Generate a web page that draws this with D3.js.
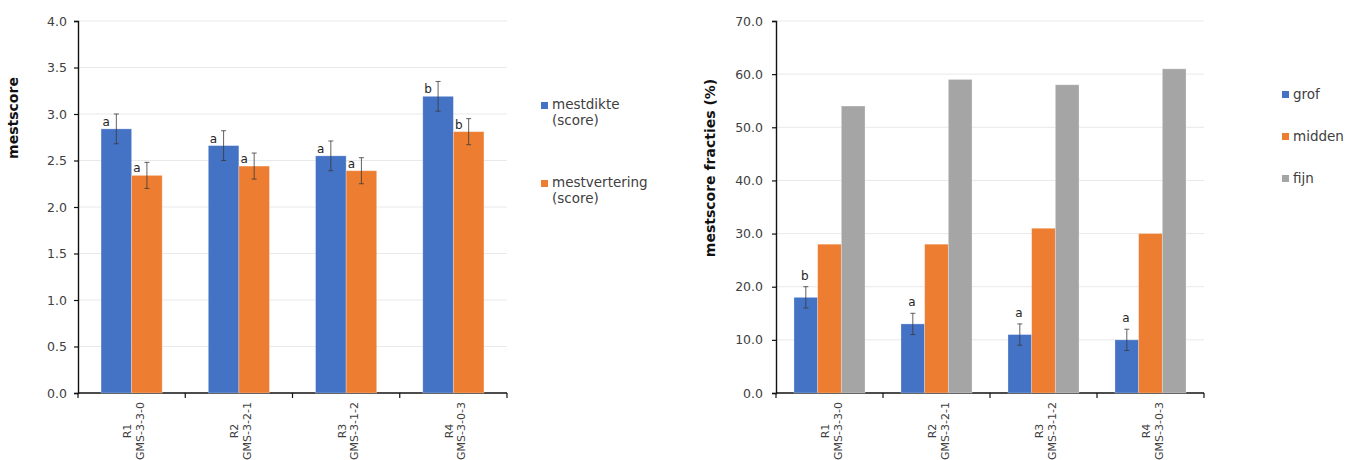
<!DOCTYPE html>
<html>
<head>
<meta charset="utf-8">
<script src="https://cdn.jsdelivr.net/npm/d3@7"></script>
<style>
  body { margin: 0; background: #fff; }
  svg { display: block; font-family: "DejaVu Sans", Verdana, sans-serif; }
  .tick text { fill: #404040; }
</style>
</head>
<body>
<svg id="chart" width="1354" height="460"></svg>
<script>
// categories
const rounds = ["R1", "R2", "R3", "R4"];
const treatments = ["GMS-3-3-0", "GMS-3-2-1", "GMS-3-1-2", "GMS-3-0-3"];

// left chart: mestscore
const scoreSeries = ["mestdikte", "mestvertering"];
const scoreLegend = [["mestdikte", "(score)"], ["mestvertering", "(score)"]];
const mestdikte = [2.84, 2.66, 2.55, 3.19];
const mestdikteErr = [0.16, 0.16, 0.16, 0.16];
const mestdikteLetters = ["a", "a", "a", "b"];
const mestvertering = [2.34, 2.44, 2.39, 2.81];
const mestverteringErr = [0.14, 0.14, 0.14, 0.14];
const mestverteringLetters = ["a", "a", "a", "b"];
const scoreTicks = [0, 0.5, 1, 1.5, 2, 2.5, 3, 3.5, 4];

// right chart: fracties
const fracSeries = ["grof", "midden", "fijn"];
const grof = [18, 13, 11, 10];
const grofErr = [2, 2, 2, 2];
const grofLetters = ["b", "a", "a", "a"];
const midden = [28, 28, 31, 30];
const fijn = [54, 59, 58, 61];
const fracTicks = [0, 10, 20, 30, 40, 50, 60, 70];

const colors = {mestdikte: "#4472C4", mestvertering: "#ED7D31", grof: "#4472C4", midden: "#ED7D31", fijn: "#A5A5A5"};

const svg = d3.select("#chart");
const plotTop = 21, plotBottom = 393;

function drawFrame(g, x, y, ticks, fmt, left, right, padding) {
  // gridlines
  g.append("g").selectAll("line").data(ticks.filter(t => t > 0)).join("line")
    .attr("x1", left).attr("x2", right)
    .attr("y1", d => y(d)).attr("y2", d => y(d))
    .attr("stroke", "#e9e9e9").attr("stroke-width", 1);

  const ax = g.append("g").attr("transform", `translate(${left},0)`)
    .call(d3.axisLeft(y).tickValues(ticks).tickFormat(fmt).tickSize(4).tickPadding(padding));
  ax.select(".domain").attr("stroke", "#111").attr("stroke-width", 1.4);
  ax.selectAll(".tick line").attr("stroke", "#111").attr("stroke-width", 1.2);
  ax.selectAll("text").attr("font-size", "12.5px").attr("font-family", "DejaVu Sans");

  // category axis with ticks between groups
  g.append("line").attr("x1", left).attr("x2", right).attr("y1", plotBottom).attr("y2", plotBottom)
    .attr("stroke", "#111").attr("stroke-width", 1.4);
  const bounds = rounds.map(r => x(r)).concat([x.range()[1]]);
  g.append("g").selectAll("line").data(bounds).join("line")
    .attr("x1", d => d).attr("x2", d => d).attr("y1", plotBottom).attr("y2", plotBottom + 5)
    .attr("stroke", "#111").attr("stroke-width", 1.2);

  // two-line rotated category labels
  const lab = g.append("g").selectAll("g").data(rounds).join("g");
  lab.append("text")
    .attr("transform", (d) => `translate(${x(d) + x.bandwidth() / 2 - 0.5},431) rotate(-90)`)
    .attr("text-anchor", "middle").attr("font-size", "11px").attr("fill", "#404040")
    .text(d => d);
  lab.append("text")
    .attr("transform", (d, i) => `translate(${x(d) + x.bandwidth() / 2 + 12},431) rotate(-90)`)
    .attr("text-anchor", "middle").attr("font-size", "11px").attr("fill", "#404040")
    .text((d, i) => treatments[i]);
}

function errorBar(g, cx, yTop, yBot) {
  g.append("line").attr("x1", cx).attr("x2", cx).attr("y1", yTop).attr("y2", yBot)
    .attr("stroke", "#3a3a3a").attr("stroke-width", 0.8);
  [yTop, yBot].forEach(yy => g.append("line")
    .attr("x1", cx - 2.5).attr("x2", cx + 2.5).attr("y1", yy).attr("y2", yy)
    .attr("stroke", "#3a3a3a").attr("stroke-width", 0.8));
}

// ---------- left chart ----------
{
  const left = 78, right = 507;
  const g = svg.append("g");
  const x = d3.scaleBand().domain(rounds).range([left, right]).padding(0);
  const y = d3.scaleLinear().domain([0, 4]).range([plotBottom, plotTop]);
  const bw = x.bandwidth();
  const x1 = d3.scaleBand().domain(scoreSeries).range([bw * 0.215, bw * 0.785]).padding(0);

  drawFrame(g, x, y, scoreTicks, d3.format(".1f"), left, right, 7);

  const data = {mestdikte: [mestdikte, mestdikteErr, mestdikteLetters],
                mestvertering: [mestvertering, mestverteringErr, mestverteringLetters]};
  scoreSeries.forEach(s => {
    const [vals, errs, letters] = data[s];
    rounds.forEach((r, i) => {
      const bx = x(r) + x1(s);
      g.append("rect").attr("x", bx).attr("y", y(vals[i]))
        .attr("width", x1.bandwidth()).attr("height", plotBottom - y(vals[i]))
        .attr("fill", colors[s]).attr("stroke", "#fff").attr("stroke-opacity", 0.35).attr("stroke-width", 0.8);
      errorBar(g, bx + x1.bandwidth() / 2, y(vals[i] + errs[i]), y(vals[i] - errs[i]));
      g.append("text").attr("x", bx + 1.5).attr("y", y(vals[i]) - 3)
        .attr("font-size", "12px").attr("fill", "#262626").text(letters[i]);
    });
  });

  g.append("text").attr("transform", "translate(18,118) rotate(-90)")
    .attr("text-anchor", "middle").attr("font-size", "14px").attr("font-weight", "bold")
    .attr("fill", "#111").text("mestscore");

  const leg = g.append("g").selectAll("g").data(scoreSeries).join("g")
    .attr("transform", (d, i) => `translate(541,${102 + i * 78})`);
  leg.append("rect").attr("width", 7).attr("height", 7).attr("fill", d => colors[d]);
  leg.each(function(d, i) {
    const t = d3.select(this).append("text").attr("x", 11).attr("y", 7)
      .attr("font-size", "13.5px").attr("fill", "#404040");
    scoreLegend[i].forEach((line, j) => t.append("tspan").attr("x", 11).attr("dy", j ? 16 : 0).text(line));
  });
}

// ---------- right chart ----------
{
  const left = 776, right = 1204;
  const g = svg.append("g");
  const x = d3.scaleBand().domain(rounds).range([left, right]).padding(0);
  const y = d3.scaleLinear().domain([0, 70]).range([plotBottom, plotTop]);
  const bw = x.bandwidth();
  const x1 = d3.scaleBand().domain(fracSeries).range([bw * 0.168, bw * 0.832]).padding(0);

  drawFrame(g, x, y, fracTicks, d3.format(".1f"), left, right, 9);

  const data = {grof: grof, midden: midden, fijn: fijn};
  fracSeries.forEach(s => {
    rounds.forEach((r, i) => {
      const bx = x(r) + x1(s);
      g.append("rect").attr("x", bx).attr("y", y(data[s][i]))
        .attr("width", x1.bandwidth()).attr("height", plotBottom - y(data[s][i]))
        .attr("fill", colors[s]).attr("stroke", "#fff").attr("stroke-opacity", 0.35).attr("stroke-width", 0.8);
    });
  });
  rounds.forEach((r, i) => {
    const cx = x(r) + x1("grof") + x1.bandwidth() / 2;
    errorBar(g, cx, y(grof[i] + grofErr[i]), y(grof[i] - grofErr[i]));
    g.append("text").attr("x", cx - 1).attr("y", y(grof[i] + grofErr[i]) - 7)
      .attr("text-anchor", "middle").attr("font-size", "12px").attr("fill", "#262626").text(grofLetters[i]);
  });

  g.append("text").attr("transform", "translate(715,168) rotate(-90)")
    .attr("text-anchor", "middle").attr("font-size", "14px").attr("font-weight", "bold")
    .attr("fill", "#111").text("mestscore fracties (%)");

  const leg = g.append("g").selectAll("g").data(fracSeries).join("g")
    .attr("transform", (d, i) => `translate(1282,${91 + i * 42})`);
  leg.append("rect").attr("width", 7).attr("height", 7).attr("fill", d => colors[d]);
  leg.append("text").attr("x", 11).attr("y", 8).attr("font-size", "13.5px").attr("fill", "#404040").text(d => d);
}
</script>
</body>
</html>
